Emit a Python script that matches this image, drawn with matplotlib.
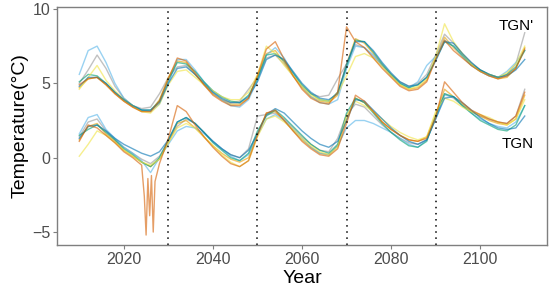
import matplotlib
matplotlib.use("Agg")
import matplotlib.pyplot as plt

plt.rcParams['font.family'] = ['Liberation Sans', 'DejaVu Sans']

# years sampled every two years, 2010-2110
years = [2010, 2012, 2014, 2016, 2018, 2020, 2022, 2024, 2026, 2028,
         2030, 2032, 2034, 2036, 2038, 2040, 2042, 2044, 2046, 2048,
         2050, 2052, 2054, 2056, 2058, 2060, 2062, 2064, 2066, 2068,
         2070, 2072, 2074, 2076, 2078, 2080, 2082, 2084, 2086, 2088,
         2090, 2092, 2094, 2096, 2098, 2100, 2102, 2104, 2106, 2108, 2110]

# extra sampling for the cold spike of one TGN run
spike_years = [2024.6, 2025.0, 2025.4, 2025.8, 2026.2, 2026.6, 2027.0]

colors = ["#999999", "#E69F00", "#56B4E9", "#009E73", "#F0E442", "#0072B2", "#D55E00"]

# TGN' runs (upper group)
tgnp_gray = [5.0, 5.9, 6.9, 6.0, 4.8, 4.0, 3.5, 3.3, 3.4, 4.3, 5.4, 6.1, 6.2, 5.6, 4.9, 4.3, 3.9, 3.7, 3.8, 4.6,
             5.4, 6.7, 6.9, 6.3, 5.5, 4.8, 4.3, 4.1, 4.2, 5.3, 6.3, 7.6, 7.4, 6.8, 6.2, 5.6, 5.1, 4.8, 5.0, 5.6,
             6.9, 8.3, 7.7, 7.0, 6.4, 5.9, 5.6, 5.4, 5.6, 6.3, 8.4]
tgnp_orange = [4.7, 5.3, 5.4, 4.9, 4.3, 3.8, 3.4, 3.1, 3.1, 3.9, 5.4, 6.5, 6.4, 5.6, 4.9, 4.3, 3.9, 3.6, 3.6, 4.0,
               5.5, 7.0, 7.2, 6.4, 5.5, 4.7, 4.1, 3.8, 3.7, 4.2, 6.3, 8.0, 7.7, 7.0, 6.2, 5.5, 4.9, 4.6, 4.7, 5.2,
               6.7, 8.1, 7.4, 6.8, 6.2, 5.8, 5.5, 5.3, 5.4, 6.0, 7.4]
tgnp_skyblue = [5.6, 7.2, 7.5, 6.4, 5.0, 4.0, 3.5, 3.2, 3.1, 3.6, 5.0, 6.6, 6.6, 5.9, 5.1, 4.4, 3.9, 3.5, 3.4, 3.9,
                5.2, 6.9, 7.4, 6.7, 5.7, 4.8, 4.1, 3.7, 3.6, 3.9, 6.0, 7.5, 7.4, 6.9, 6.2, 5.5, 5.0, 4.7, 5.1, 6.2,
                6.8, 7.9, 7.5, 6.8, 6.2, 5.8, 5.5, 5.4, 5.8, 6.4, 7.2]
tgnp_green = [5.1, 5.6, 5.5, 5.0, 4.4, 3.9, 3.5, 3.2, 3.2, 3.8, 5.2, 6.4, 6.3, 5.8, 5.1, 4.5, 4.1, 3.8, 3.7, 4.2,
              5.3, 6.9, 7.0, 6.5, 5.7, 4.9, 4.3, 3.9, 3.8, 4.4, 6.1, 7.9, 7.8, 7.1, 6.3, 5.6, 5.0, 4.7, 4.9, 5.4,
              6.6, 7.8, 7.5, 6.9, 6.3, 5.9, 5.6, 5.4, 5.6, 6.1, 7.2]
tgnp_yellow = [4.6, 5.4, 6.2, 5.2, 4.5, 3.9, 3.5, 3.1, 3.0, 3.6, 4.9, 5.8, 5.9, 5.4, 4.9, 4.5, 4.1, 3.9, 3.9, 4.4,
               5.6, 7.5, 7.0, 6.2, 5.5, 4.8, 4.2, 3.9, 3.8, 4.3, 5.5, 6.8, 7.0, 6.7, 6.1, 5.5, 4.9, 4.6, 4.8, 5.3,
               6.8, 9.0, 7.8, 7.0, 6.3, 5.8, 5.6, 5.4, 5.7, 6.3, 7.5]
tgnp_blue = [4.8, 5.4, 5.4, 5.0, 4.4, 3.9, 3.5, 3.2, 3.2, 3.7, 5.0, 6.0, 6.1, 5.6, 5.0, 4.4, 4.0, 3.7, 3.7, 4.1,
             5.1, 6.6, 6.9, 6.6, 5.8, 5.0, 4.4, 4.0, 3.9, 4.3, 6.3, 7.8, 7.8, 7.2, 6.4, 5.7, 5.1, 4.8, 4.9, 5.4,
             6.5, 7.8, 7.7, 7.0, 6.4, 5.9, 5.6, 5.4, 5.5, 5.9, 6.6]
tgnp_vermilion = [4.9, 5.3, 5.4, 4.9, 4.3, 3.8, 3.4, 3.1, 3.1, 3.8, 5.3, 6.7, 6.5, 5.7, 4.9, 4.2, 3.8, 3.5, 3.5, 4.0,
                  5.5, 7.3, 7.8, 6.6, 5.5, 4.6, 4.0, 3.7, 3.6, 4.4, 8.8, 7.8, 7.4, 6.7, 6.0, 5.4, 4.8, 4.5, 4.6, 5.1,
                  6.6, 7.9, 7.2, 6.7, 6.2, 5.8, 5.5, 5.3, 5.5, 6.0, 7.3]

# TGN runs (lower group)
tgn_gray = [1.4, 2.4, 2.6, 1.8, 1.2, 0.7, 0.3, -0.1, -0.4, 0.1, 1.1, 2.1, 2.6, 2.3, 1.7, 1.1, 0.6, 0.2, 0.0, 0.6,
            2.8, 2.9, 3.0, 2.6, 2.0, 1.4, 0.9, 0.5, 0.4, 1.3, 2.9, 3.6, 3.4, 2.8, 2.2, 1.7, 1.3, 1.0, 0.9, 1.2,
            2.7, 4.3, 4.0, 3.5, 3.1, 2.8, 2.6, 2.4, 2.3, 2.8, 4.6]
tgn_orange = [1.2, 2.1, 2.3, 1.6, 1.1, 0.5, 0.1, -0.3, -0.6, -0.1, 1.0, 2.3, 2.5, 2.0, 1.4, 0.8, 0.3, -0.1, -0.3, 0.0,
              1.6, 3.0, 3.1, 2.5, 1.8, 1.2, 0.7, 0.3, 0.2, 0.8, 2.6, 4.0, 3.7, 3.1, 2.4, 1.9, 1.5, 1.2, 1.1, 1.4,
              2.9, 4.6, 4.1, 3.6, 3.1, 2.8, 2.5, 2.3, 2.2, 2.6, 4.2]
tgn_skyblue = [1.6, 2.7, 2.9, 1.9, 1.3, 0.7, 0.3, -0.2, -1.0, 0.0, 0.9, 1.8, 2.1, 2.0, 1.6, 1.1, 0.6, 0.1, -0.2, 0.2,
               1.5, 2.6, 2.9, 2.5, 1.9, 1.3, 0.7, 0.3, 0.2, 0.8, 2.0, 2.5, 2.5, 2.3, 2.0, 1.7, 1.3, 0.9, 0.7, 1.2,
               2.6, 4.2, 4.1, 3.5, 3.0, 2.6, 2.3, 2.1, 2.0, 2.4, 3.5]
tgn_green = [1.5, 1.9, 2.2, 1.7, 1.2, 0.6, 0.2, -0.3, -0.6, 0.0, 1.2, 2.4, 2.7, 2.3, 1.7, 1.0, 0.5, 0.0, -0.2, 0.3,
             1.8, 2.8, 3.2, 2.7, 2.1, 1.5, 0.9, 0.5, 0.3, 0.9, 3.0, 4.0, 3.7, 3.0, 2.3, 1.7, 1.2, 0.8, 0.7, 1.1,
             2.8, 4.3, 4.1, 3.5, 3.0, 2.5, 2.2, 1.9, 1.8, 2.2, 3.5]
tgn_yellow = [0.1, 0.9, 1.8, 1.5, 1.0, 0.5, 0.1, -0.3, -0.5, -0.1, 1.0, 2.0, 2.3, 2.0, 1.4, 0.8, 0.2, -0.3, -0.6, -0.2,
              1.4, 2.6, 2.8, 2.4, 1.9, 1.3, 0.8, 0.4, 0.2, 0.7, 2.8, 3.8, 3.5, 3.1, 2.6, 2.1, 1.7, 1.4, 1.2, 1.4,
              3.1, 4.0, 3.8, 3.4, 3.1, 2.9, 2.7, 2.4, 2.2, 2.6, 3.9]
tgn_blue = [1.3, 2.1, 2.2, 1.8, 1.3, 0.9, 0.6, 0.3, 0.1, 0.4, 1.2, 2.4, 2.7, 2.3, 1.7, 1.1, 0.6, 0.2, 0.0, 0.5,
            1.6, 2.9, 3.3, 3.0, 2.4, 1.8, 1.3, 0.9, 0.7, 1.1, 2.5, 3.9, 3.8, 3.2, 2.6, 2.0, 1.5, 1.1, 0.9, 1.2,
            2.6, 4.0, 4.1, 3.7, 3.2, 2.7, 2.3, 2.0, 1.9, 2.0, 2.8]
tgn_vermilion = [1.1, 2.2, 2.0, 1.5, 1.0, 0.4, 0.0, -0.5,
                 -2.6, -5.2, -1.4, -3.9, -1.2, -5.0, -1.6,
                 -0.4, 1.3, 3.5, 3.1, 2.2, 1.4, 0.7, 0.1, -0.4, -0.6, -0.2, 1.5, 3.0, 3.2, 2.5, 1.8, 1.1, 0.6,
                 0.2, 0.1, 0.6, 2.3, 4.2, 3.8, 3.1, 2.4, 1.9, 1.5, 1.2, 1.1, 1.3, 2.7, 5.1, 4.4, 3.7, 3.2, 2.9,
                 2.6, 2.4, 2.3, 2.8, 4.4]
years_vermilion = years[:8] + spike_years + years[9:]

policy_years = [2030, 2050, 2070, 2090]

upper = [tgnp_gray, tgnp_orange, tgnp_skyblue, tgnp_green, tgnp_yellow, tgnp_blue, tgnp_vermilion]
lower = [tgn_gray, tgn_orange, tgn_skyblue, tgn_green, tgn_yellow, tgn_blue]

fig = plt.figure(figsize=(5.54, 3.0), dpi=100)
ax = fig.add_axes([0.1029, 0.1833, 0.8845, 0.7934])

for vals, col in zip(upper, colors):
    ax.plot(years, vals, color=col, alpha=0.6, linewidth=1.0)
for vals, col in zip(lower, colors[:6]):
    ax.plot(years, vals, color=col, alpha=0.6, linewidth=1.0)
ax.plot(years_vermilion, tgn_vermilion, color=colors[6], alpha=0.6, linewidth=1.0)

for yr in policy_years:
    ax.axvline(yr, color='black', linestyle=(0, (1, 3)), linewidth=1.1)

ax.text(2108, 8.85, "TGN'", ha='center', va='center', fontsize=11)
ax.text(2108.5, 0.95, "TGN", ha='center', va='center', fontsize=11)

ax.set_xlim(2005, 2115)
ax.set_ylim(-5.87, 10.13)
ax.set_xticks([2020, 2040, 2060, 2080, 2100])
ax.set_yticks([-5, 0, 5, 10])
ax.set_xlabel("Year", fontsize=14, labelpad=2)
ax.set_ylabel("Temperature(°C)", fontsize=14, labelpad=2)
ax.tick_params(colors='#7F7F7F', labelcolor='#4D4D4D', labelsize=11.5, length=3, width=0.8, pad=2)
for sp in ax.spines.values():
    sp.set_color('#7F7F7F')
    sp.set_linewidth(1.0)

fig.savefig("out.png", dpi=100)
